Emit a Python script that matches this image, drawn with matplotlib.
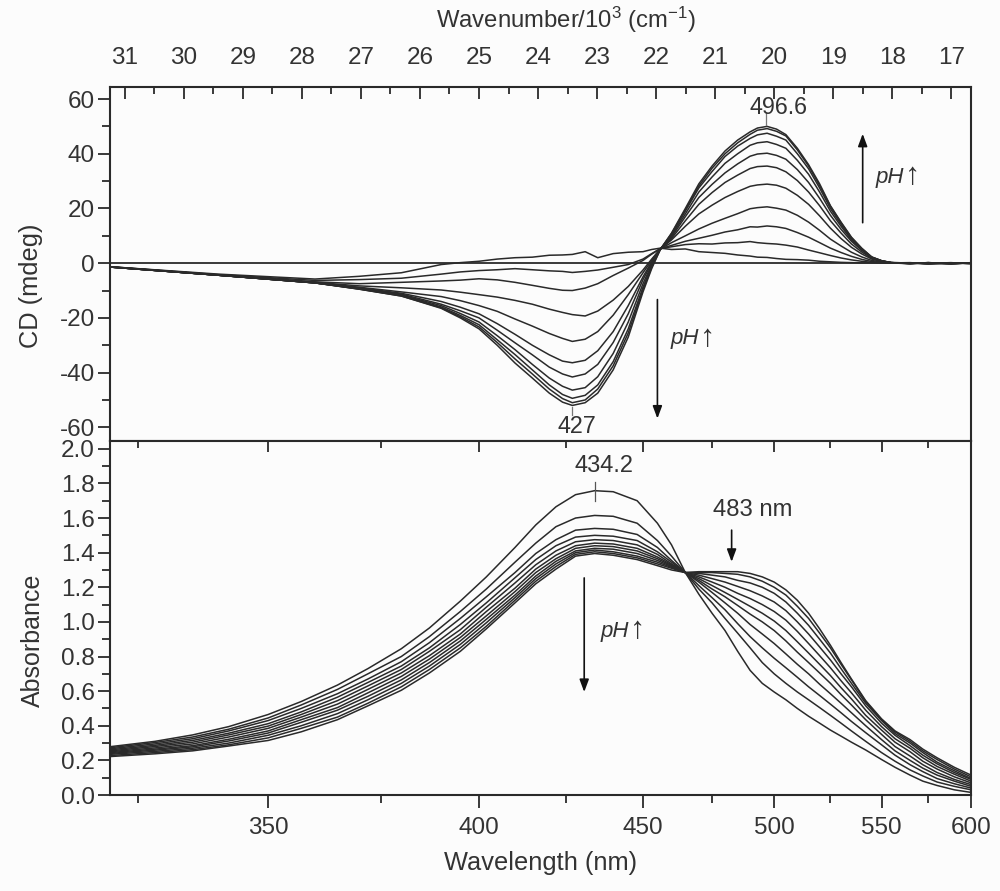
#!/usr/bin/env python3

import numpy as np
import matplotlib
matplotlib.use('Agg')
import matplotlib.pyplot as plt
from matplotlib.ticker import MultipleLocator

plt.rcParams['font.family'] = ['Liberation Sans', 'DejaVu Sans']
plt.rcParams['mathtext.fontset'] = 'custom'
plt.rcParams['mathtext.rm'] = 'Liberation Sans'
plt.rcParams['mathtext.it'] = 'Liberation Sans:italic'
plt.rcParams['axes.unicode_minus'] = False

# CD titration (mdeg)
cd_wl = [320, 340, 360, 370, 380, 390, 395, 400, 405, 410, 415, 420, 424, 427, 431, 435, 440, 445, 450, 453, 456,
         460, 465, 470, 475, 480, 485, 490, 493, 497, 501, 505, 510, 515, 520, 525, 530, 535, 540, 545, 550, 555,
         565, 575, 588, 600]
cd_curves = [
    [-1.3, -4.0, -5.8, -4.8, -3.5, -0.5, 0.2, 0.7, 1.5, 2.0, 2.2, 2.9, 3.0, 3.2, 4.2, 2.0, 3.5, 4.0, 4.2, 5.0, 5.5,
     5.0, 5.2, 4.2, 3.9, 3.6, 3.0, 2.6, 2.2, 2.1, 1.7, 1.4, 1.3, 1.1, 0.7, 0.5, 0.3, 0.2, 0.1, 0.1, 0.1, 0.1,
     -0.1, 0.2, -0.2, 0.1],
    [-1.3, -4.2, -6.3, -6.0, -5.5, -4.0, -3.2, -2.7, -2.4, -2.0, -2.4, -2.8, -3.0, -3.4, -3.0, -2.5, -1.5, -0.5, 1.5, 3.5, 5.3,
     6.0, 6.8, 7.1, 7.0, 7.4, 7.5, 7.9, 7.5, 7.2, 7.0, 6.6, 5.9, 4.8, 3.8, 2.8, 1.9, 1.2, 0.7, 0.3, 0.1, 0.0,
     0.1, -0.2, 0.1, -0.1],
    [-1.3, -4.3, -6.8, -7.5, -7.0, -6.5, -6.2, -5.7, -6.1, -7.0, -8.1, -9.2, -9.9, -10.0, -9.1, -7.5, -4.5, -1.8, 1.0, 3.3, 5.3,
     6.5, 8.0, 9.1, 10.2, 11.4, 12.2, 13.3, 13.2, 13.6, 13.3, 12.7, 11.2, 9.5, 7.5, 5.5, 3.9, 2.5, 1.4, 0.6, 0.2, 0.1,
     -0.2, 0.1, -0.3, 0.2],
    [-1.4, -4.4, -7.0, -8.3, -9.0, -9.8, -10.6, -11.5, -12.4, -13.6, -15.0, -16.8, -18.0, -18.8, -19.3, -17.5, -13.5, -8.5, -2.5, 1.5, 5.2,
     7.5, 10.0, 12.5, 14.6, 16.4, 18.1, 19.9, 20.3, 20.6, 20.1, 19.4, 17.5, 15.0, 12.0, 8.8, 6.3, 4.0, 2.3, 1.0, 0.4, 0.1,
     0.2, -0.2, 0.0, -0.1],
    [-1.4, -4.4, -7.1, -8.8, -10.5, -12.2, -13.7, -15.5, -17.6, -20.4, -23.0, -25.7, -27.5, -28.6, -27.8, -25.0, -19.0, -11.5, -3.5, 1.0, 5.2,
     8.5, 13.5, 18.0, 21.2, 24.0, 26.2, 28.1, 28.6, 28.9, 28.5, 27.4, 24.8, 21.5, 17.3, 12.8, 9.0, 5.8, 3.4, 1.5, 0.6, 0.2,
     -0.1, 0.1, -0.2, 0.1],
    [-1.4, -4.4, -7.2, -9.0, -11.0, -14.0, -16.1, -18.5, -22.1, -26.0, -30.0, -33.5, -35.8, -36.4, -35.5, -32.0, -25.0, -15.5, -5.0, 0.5, 5.1,
     9.0, 15.5, 21.5, 25.8, 29.5, 32.2, 34.6, 35.3, 35.5, 34.9, 33.4, 30.2, 26.0, 21.0, 15.5, 11.0, 7.0, 4.1, 1.8, 0.7, 0.2,
     0.1, -0.3, 0.1, 0.0],
    [-1.4, -4.4, -7.2, -9.2, -11.3, -15.0, -17.4, -20.0, -24.5, -29.1, -33.5, -38.0, -40.5, -41.6, -40.5, -37.0, -29.0, -18.5, -6.0, 0.0, 5.1,
     9.5, 17.0, 24.0, 28.8, 33.0, 36.3, 39.1, 39.9, 40.2, 39.4, 38.0, 34.2, 29.5, 23.7, 17.5, 12.4, 8.0, 4.7, 2.0, 0.8, 0.2,
     -0.2, 0.2, -0.1, 0.1],
    [-1.4, -4.4, -7.2, -9.3, -11.6, -15.5, -18.4, -21.5, -26.5, -31.6, -37.0, -42.0, -45.0, -46.4, -45.5, -41.5, -33.0, -21.5, -7.5, -0.5, 5.1,
     10.0, 18.0, 26.0, 31.5, 36.5, 40.0, 43.1, 44.0, 44.4, 43.4, 42.0, 37.6, 32.5, 26.0, 19.0, 13.5, 8.5, 5.0, 2.1, 0.8, 0.2,
     0.1, -0.1, 0.2, -0.2],
    [-1.4, -4.4, -7.2, -9.4, -11.8, -16.0, -19.1, -22.5, -28.0, -33.4, -39.0, -44.5, -48.0, -49.4, -48.3, -44.5, -36.0, -24.0, -8.8, -1.0, 5.0,
     10.5, 19.0, 27.5, 33.5, 39.0, 42.8, 45.6, 46.9, 47.5, 46.4, 45.0, 40.0, 34.5, 27.5, 20.0, 14.2, 9.0, 5.2, 2.2, 0.9, 0.2,
     -0.1, 0.2, -0.2, 0.1],
    [-1.4, -4.4, -7.2, -9.5, -12.0, -16.3, -19.6, -23.3, -29.0, -35.0, -40.5, -46.0, -49.5, -51.0, -50.0, -46.0, -37.5, -25.5, -9.6, -1.5, 5.0,
     10.8, 19.5, 28.2, 34.7, 40.0, 44.0, 47.1, 48.6, 49.2, 48.2, 46.5, 41.4, 35.5, 28.4, 20.8, 14.8, 9.3, 5.4, 2.3, 0.9, 0.2,
     0.1, -0.2, 0.1, -0.1],
    [-1.4, -4.4, -7.2, -9.5, -12.0, -16.5, -20.0, -24.0, -30.0, -36.5, -42.0, -47.5, -50.8, -52.0, -51.0, -47.5, -39.0, -27.0, -10.5, -2.0, 5.0,
     11.0, 20.0, 29.0, 35.5, 41.0, 45.0, 48.0, 49.4, 50.0, 49.0, 47.0, 42.0, 36.0, 29.0, 21.0, 15.0, 9.5, 5.5, 2.2, 0.9, 0.2,
     -0.1, 0.1, -0.1, 0.1],
]

# absorbance titration
abs_wl = [320, 328, 335, 342, 350, 357, 365, 372, 380, 387, 395, 402, 410, 416, 422, 428, 434, 440, 448, 455, 460,
          465, 470, 475, 480, 485, 490, 495, 500, 505, 510, 515, 520, 525, 530, 535, 542, 550, 557, 565, 572, 580, 590, 600]
abs_curves = [
    [.279, .31, .347, .395, .465, .54, .635, .73, .845, .965, 1.12, 1.26, 1.43, 1.56, 1.665, 1.735, 1.758, 1.752, 1.70, 1.57, 1.445,
     1.285, 1.16, 1.05, .95, .83, .72, .645, .595, .55, .50, .455, .415, .375, .34, .305, .26, .205, .16, .115, .08, .055, .03, .015],
    [.273, .303, .335, .38, .445, .52, .61, .70, .80, .915, 1.06, 1.19, 1.345, 1.455, 1.55, 1.60, 1.615, 1.61, 1.57, 1.47, 1.38,
     1.285, 1.19, 1.11, 1.02, .935, .85, .765, .70, .645, .595, .55, .505, .46, .415, .37, .31, .245, .195, .145, .11, .075, .05, .03],
    [.267, .295, .325, .37, .43, .50, .585, .67, .77, .88, 1.02, 1.145, 1.285, 1.395, 1.475, 1.53, 1.54, 1.535, 1.505, 1.43, 1.355,
     1.285, 1.21, 1.14, 1.07, .99, .915, .85, .79, .735, .68, .625, .575, .525, .475, .425, .36, .29, .23, .175, .135, .095, .065, .04],
    [.261, .287, .315, .357, .412, .48, .565, .65, .745, .85, .985, 1.11, 1.255, 1.36, 1.44, 1.49, 1.50, 1.495, 1.47, 1.405, 1.345,
     1.285, 1.23, 1.17, 1.11, 1.05, .985, .93, .875, .815, .755, .70, .64, .585, .53, .475, .40, .32, .255, .20, .155, .115, .08, .05],
    [.255, .28, .305, .347, .398, .465, .545, .63, .725, .83, .955, 1.085, 1.225, 1.33, 1.41, 1.463, 1.475, 1.47, 1.445, 1.39, 1.335,
     1.285, 1.24, 1.19, 1.145, 1.095, 1.045, 1.0, .95, .89, .825, .765, .705, .645, .58, .52, .435, .35, .28, .225, .175, .13, .09, .06],
    [.25, .272, .295, .335, .385, .45, .525, .61, .705, .805, .93, 1.06, 1.195, 1.305, 1.385, 1.44, 1.455, 1.45, 1.425, 1.375, 1.33,
     1.285, 1.25, 1.21, 1.17, 1.13, 1.09, 1.05, 1.005, .95, .885, .82, .755, .69, .62, .555, .46, .375, .305, .25, .195, .15, .105, .07],
    [.245, .265, .285, .322, .37, .435, .505, .59, .685, .785, .91, 1.035, 1.175, 1.285, 1.365, 1.425, 1.44, 1.435, 1.41, 1.365, 1.325,
     1.285, 1.26, 1.23, 1.20, 1.165, 1.135, 1.10, 1.06, 1.01, .945, .875, .805, .735, .66, .59, .49, .395, .325, .27, .215, .165, .12, .08],
    [.24, .259, .278, .312, .358, .42, .49, .57, .665, .765, .89, 1.015, 1.155, 1.265, 1.35, 1.41, 1.425, 1.42, 1.395, 1.355, 1.32,
     1.285, 1.27, 1.25, 1.23, 1.205, 1.18, 1.15, 1.115, 1.065, 1.0, .93, .855, .78, .70, .625, .515, .415, .345, .285, .23, .18, .13, .09],
    [.235, .252, .27, .30, .345, .40, .47, .55, .645, .745, .87, .995, 1.14, 1.25, 1.335, 1.40, 1.415, 1.405, 1.38, 1.345, 1.315,
     1.285, 1.28, 1.27, 1.26, 1.24, 1.225, 1.20, 1.165, 1.115, 1.05, .98, .90, .82, .73, .645, .53, .43, .355, .30, .245, .19, .14, .095],
    [.228, .245, .262, .29, .33, .385, .45, .53, .625, .725, .85, .975, 1.125, 1.235, 1.32, 1.39, 1.405, 1.395, 1.37, 1.335, 1.31,
     1.285, 1.285, 1.285, 1.28, 1.275, 1.26, 1.235, 1.20, 1.155, 1.09, 1.02, .935, .85, .755, .665, .54, .435, .365, .31, .255, .205, .15, .105],
    [.222, .238, .255, .283, .315, .365, .435, .515, .605, .705, .83, .96, 1.11, 1.22, 1.305, 1.38, 1.395, 1.385, 1.36, 1.325, 1.30,
     1.285, 1.29, 1.29, 1.29, 1.29, 1.28, 1.26, 1.23, 1.185, 1.125, 1.05, .96, .865, .765, .67, .545, .44, .37, .32, .265, .215, .16, .115],
]

wl_major = [350, 400, 450, 500, 550, 600]
wl_minor = [325, 375, 425, 475, 525, 575]
wn_major = list(range(31, 16, -1))
wn_minor = [30.5, 29.5, 28.5, 27.5, 26.5, 25.5, 24.5, 23.5, 22.5, 21.5, 20.5, 19.5, 18.5, 17.5]

INK = '#2a2a2a'
TXT = '#333333'
LW = 1.1
BG = '#fcfcfc'


def wn(wl):
    # nm to 10^3 cm-1
    return 1e4 / np.asarray(wl, dtype=float)


def figpos(x, y):
    return x / 1000, 1 - y / 891


fig = plt.figure(figsize=(10, 8.91), dpi=100, facecolor=BG)
left, right = figpos(110, 0)[0], figpos(971, 0)[0]
ax1 = fig.add_axes([left, figpos(0, 441)[1], right - left, 354 / 891], facecolor=BG)
ax2 = fig.add_axes([left, figpos(0, 795)[1], right - left, 354 / 891], facecolor=BG)

for row in cd_curves:
    ax1.plot(wn(cd_wl), row, color=INK, lw=LW)
ax1.axhline(0, color=INK, lw=1.3)
for row in abs_curves:
    ax2.plot(wn(abs_wl), row, color=INK, lw=LW)

for ax in (ax1, ax2):
    ax.set_xlim(wn(320), wn(600))
    for s in ax.spines.values():
        s.set_linewidth(1.5)
        s.set_color(INK)
    ax.tick_params(which='both', color=INK, labelcolor=TXT, labelsize=17.5)
    ax.tick_params(axis='y', which='major', direction='out', length=8.5, width=1.3, pad=2.5)
    ax.tick_params(axis='y', which='minor', direction='out', length=5.5, width=1.3)

ax1.set_ylim(-65, 64.4)
ax1.yaxis.set_major_locator(MultipleLocator(20))
ax1.yaxis.set_minor_locator(MultipleLocator(10))
ax2.set_ylim(0, 2.045)
ax2.yaxis.set_minor_locator(MultipleLocator(0.1))
ax2.set_yticks(np.arange(0, 2.01, 0.2))
ax2.set_yticklabels(['{0:.1f}'.format(v) for v in np.arange(0, 2.01, 0.2)])

# wavenumber scale on the top edge, ticks pointing in
ax1.xaxis.tick_top()
ax1.set_xticks(wn_major)
ax1.set_xticklabels([str(v) for v in wn_major])
ax1.set_xticks(wn_minor, minor=True)
ax1.tick_params(axis='x', which='major', direction='in', length=8.5, width=1.3, pad=13)
ax1.tick_params(axis='x', which='minor', direction='in', length=5, width=1.3)

# wavelength scale on the bottom
ax2.set_xticks(wn(wl_major))
ax2.set_xticklabels([str(v) for v in wl_major])
ax2.set_xticks(wn(wl_minor), minor=True)
ax2.tick_params(axis='x', which='major', direction='out', length=9, width=1.3, pad=7)
ax2.tick_params(axis='x', which='minor', direction='out', length=5.5, width=1.3)

# same wavelength ticks hanging off the divider
ax3 = ax2.twiny()
ax3.set_xlim(ax2.get_xlim())
ax3.set_xticks(wn(wl_major))
ax3.set_xticks(wn(wl_minor), minor=True)
ax3.tick_params(axis='x', which='major', direction='in', length=8, width=1.3, labeltop=False, color=INK)
ax3.tick_params(axis='x', which='minor', direction='in', length=5, width=1.3, color=INK)
for s in ax3.spines.values():
    s.set_visible(False)

# axis titles
lab = dict(color=TXT, ha='center', va='center')
fig.text(*figpos(566, 20), 'Wavenumber/10$^{3}$ (cm$^{-1}$)', fontsize=17.2, **lab)
fig.text(*figpos(541, 863), 'Wavelength (nm)', fontsize=18.3, **lab)
fig.text(*figpos(31, 286), 'CD (mdeg)', rotation=90, fontsize=18.3, **lab)
fig.text(*figpos(33, 640), 'Absorbance', rotation=90, fontsize=18, **lab)

# peak marks
ax1.plot(wn([496.6, 496.6]), [50.6, 55], color='#777777', lw=0.9)
ax1.plot(wn([427, 427]), [-52.5, -55.5], color='#777777', lw=0.9)
ax2.plot(wn([434.2, 434.2]), [1.70, 1.81], color='#555555', lw=0.9)
fig.text(*figpos(778, 108), '496.6', fontsize=16.8, **lab)
fig.text(*figpos(577, 427), '427', fontsize=16.8, **lab)
fig.text(*figpos(604, 466), '434.2', fontsize=17, **lab)
fig.text(*figpos(753, 510), '483 nm', fontsize=17.2, **lab)


def arrow(ax, wl, y0, y1):
    ax.annotate('', xy=(wn(wl), y1), xytext=(wn(wl), y0),
                arrowprops=dict(arrowstyle='-|>,head_width=0.28,head_length=0.75', color='#111111',
                                lw=1.2, shrinkA=0, shrinkB=0))


arrow(ax1, 540.5, 14.8, 47.3)
arrow(ax1, 455, -13.3, -56.8)
arrow(ax2, 430.7, 1.254, 0.595)
arrow(ax2, 482.6, 1.53, 1.347)

# pH labels
for x, y in [(876, 177), (671, 339), (601, 631)]:
    fig.text(*figpos(x, y), 'pH', style='italic', color=TXT, fontsize=16, ha='left', va='center')
    fig.text(*figpos(x + 37, y - 1), '\u2191', color=TXT, fontsize=22, ha='center', va='center')

fig.savefig('out.png', dpi=100, facecolor=BG)
